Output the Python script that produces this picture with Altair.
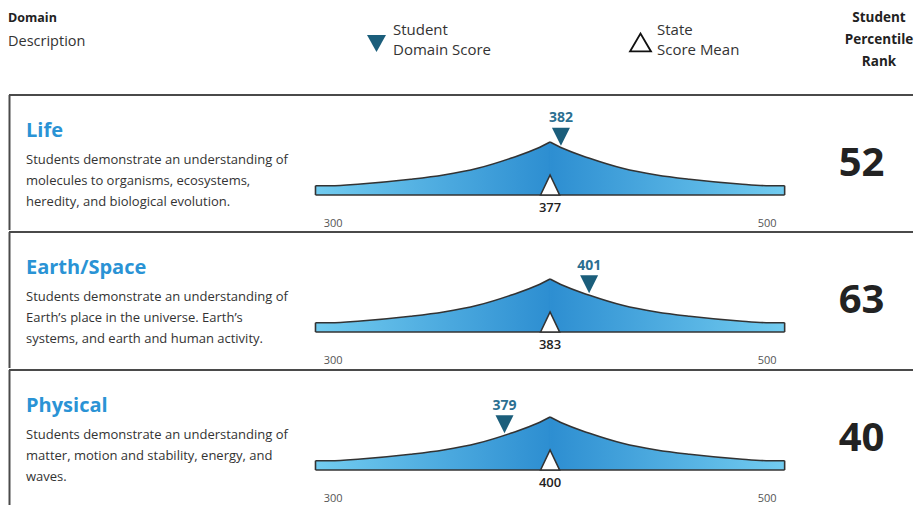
import altair as alt
import numpy as np
import pandas as pd

# ---------------- data ----------------
domains = ["Life", "Earth/Space", "Physical"]
descriptions = [
    "Students demonstrate an understanding of\nmolecules to organisms, ecosystems,\nheredity, and biological evolution.",
    "Students demonstrate an understanding of\nEarth\u2019s place in the universe. Earth\u2019s\nsystems, and earth and human activity.",
    "Students demonstrate an understanding of\nmatter, motion and stability, energy, and\nwaves.",
]
student_scores = [382, 401, 379]
state_means = [377, 383, 400]
percentile_ranks = [52, 63, 40]
scale_ticks = [300, 500]

# outline of the score "mountain" (score units, height above the base)
curve_x = [291.9, 298.8, 312.7, 335.7, 350.9, 366.6, 381.8, 394.2, 400.0,
           405.8, 418.2, 433.4, 449.1, 464.3, 487.3, 501.2, 508.1]
curve_h = [9.3, 9.3, 11.0, 15.7, 20.0, 26.7, 36.7, 46.7, 53.0,
           46.7, 36.7, 26.7, 20.0, 15.7, 11.0, 9.3, 9.3]

header_domain = "Domain"
header_description = "Description"
legend_student = ["Student", "Domain Score"]
legend_state = ["State", "Score Mean"]
rank_header = ["Student", "Percentile", "Rank"]

# ---------------- layout / style ----------------
FONT = "Open Sans"
W = 906
HEADER_H = 86
ROW_H = [137, 138, 137]
BASE = 101
PX_PER_UNIT = 2.17
X_LEFT = 150.2
X_DOMAIN = [X_LEFT, X_LEFT + W / PX_PER_UNIT]
BORDER = "#4a4a4a"
OUTLINE = "#333333"
TITLE_BLUE = "#2a93d5"
STUDENT_DARK = "#1b5e7b"
STUDENT_LABEL = "#2b6f91"
EDGE_BLUE = "#72ccf0"
MID_BLUE = "#2d8ed1"

DOWN_TIP = "M-1,-2.2L1,-2.2L0,-0.2Z"
UP_BASE = "M-0.95,0L0,-2L0.95,0Z"
DOWN_C = "M-1,-0.9L1,-0.9L0,0.9Z"
UP_C = "M-1,0.85L0,-0.85L1,0.85Z"

center = (scale_ticks[0] + scale_ticks[1]) / 2

curve_df = pd.DataFrame({"x": curve_x, "h": curve_h, "zero": 0.0})
left_df = curve_df[curve_df.x <= center].assign(side="L")
right_df = curve_df[curve_df.x >= center].assign(side="R")
outline_df = pd.concat([left_df, right_df], ignore_index=True)
base_df = pd.DataFrame({"x0": [curve_x[0]], "x1": [curve_x[-1]], "zero": [0.0]})
ends_df = pd.DataFrame({"x": [curve_x[0], curve_x[-1]],
                        "h": [curve_h[0], curve_h[-1]], "zero": [0.0, 0.0]})
seam_df = pd.DataFrame({"x": [center], "h": [max(curve_h) - 1.0], "zero": [0.0]})
ticks_df = pd.DataFrame({"tick": scale_ticks})

grad_left = alt.Gradient(
    gradient="linear",
    stops=[alt.GradientStop(color=EDGE_BLUE, offset=0),
           alt.GradientStop(color=MID_BLUE, offset=1)],
    x1=0, x2=1, y1=0, y2=0,
)
grad_right = alt.Gradient(
    gradient="linear",
    stops=[alt.GradientStop(color=MID_BLUE, offset=0),
           alt.GradientStop(color=EDGE_BLUE, offset=1)],
    x1=0, x2=1, y1=0, y2=0,
)


def row_chart(i):
    H = ROW_H[i]
    xs = alt.Scale(domain=X_DOMAIN, nice=False, zero=False)
    ys = alt.Scale(domain=[BASE - H, BASE], nice=False, zero=False)
    pos = center + (student_scores[i] - state_means[i])
    row_df = pd.DataFrame({
        "domain": [domains[i]],
        "description": [descriptions[i]],
        "rank": [str(percentile_ranks[i])],
        "student": [str(student_scores[i])],
        "mean": [str(state_means[i])],
        "pos": [pos],
        "center": [center],
        "zero": [0.0],
        "curve_at": [float(np.interp(pos, curve_x, curve_h))],
    })

    def X(f):
        return alt.X(f, type="quantitative", scale=xs, axis=None)

    def Y(f):
        return alt.Y(f, type="quantitative", scale=ys, axis=None)

    base = alt.Chart(row_df)

    top_rule = base.mark_rule(color=BORDER, strokeWidth=2).encode(
        x=alt.value(1), x2=alt.value(W - 1), y=alt.value(1))
    left_rule = base.mark_rule(color=BORDER, strokeWidth=2).encode(
        x=alt.value(1.5), y=alt.value(1), y2=alt.value(H - 1))

    area_l = alt.Chart(left_df).mark_area(
        color=grad_left, opacity=1, interpolate="monotone").encode(
        x=X("x"), y=Y("h"), y2=alt.Y2("zero"))
    area_r = alt.Chart(right_df).mark_area(
        color=grad_right, opacity=1, interpolate="monotone").encode(
        x=X("x"), y=Y("h"), y2=alt.Y2("zero"))
    seam = alt.Chart(seam_df).mark_rule(color=MID_BLUE, strokeWidth=1.5).encode(
        x=X("x"), y=Y("h"), y2=alt.Y2("zero"))
    outline = alt.Chart(outline_df).mark_line(
        color=OUTLINE, strokeWidth=1.6, interpolate="monotone").encode(
        x=X("x"), y=Y("h"), detail="side:N")
    bottom = alt.Chart(base_df).mark_rule(color=OUTLINE, strokeWidth=1.6).encode(
        x=X("x0"), x2=alt.X2("x1"), y=Y("zero"))
    ends = alt.Chart(ends_df).mark_rule(color=OUTLINE, strokeWidth=1.6).encode(
        x=X("x"), y=Y("h"), y2=alt.Y2("zero"))

    mean_tri = base.mark_point(
        shape=UP_BASE, size=100 * 4, filled=True, fill="white",
        stroke=OUTLINE, strokeWidth=1.6, opacity=1).encode(
        x=X("center"), y=Y("zero"))
    stud_tri = base.mark_point(
        shape=DOWN_TIP, size=81 * 4, filled=True, color=STUDENT_DARK,
        opacity=1).encode(x=X("pos"), y=Y("curve_at"))
    stud_lbl = base.mark_text(
        dy=-29, font=FONT, fontSize=14, fontWeight="bold", color=STUDENT_LABEL,
        baseline="middle").encode(x=X("pos"), y=Y("curve_at"), text="student:N")
    mean_lbl = base.mark_text(
        dy=13, font=FONT, fontSize=13, fontWeight=600, color="#222222",
        baseline="middle").encode(x=X("center"), y=Y("zero"), text="mean:N")
    tick_lbl = alt.Chart(ticks_df).mark_text(
        font=FONT, fontSize=11, color="#555555", baseline="middle").encode(
        x=X("tick"), y=alt.value(130), text="tick:N")

    title = base.mark_text(
        align="left", baseline="middle", font=FONT, fontSize=20,
        fontWeight="bold", color=TITLE_BLUE).encode(
        x=alt.value(18), y=alt.value(37), text="domain:N")
    desc = base.mark_text(
        align="left", baseline="middle", font=FONT, fontSize=13,
        color="#333333", lineBreak="\n", lineHeight=21).encode(
        x=alt.value(18), y=alt.value(66), text="description:N")
    rank = base.mark_text(
        align="center", baseline="middle", font=FONT, fontSize=40,
        fontWeight="bold", color="#222222").encode(
        x=alt.value(853.5), y=alt.value(70), text="rank:N")

    return alt.layer(
        top_rule, left_rule, area_l, area_r, seam, outline, bottom, ends,
        mean_tri, stud_tri, stud_lbl, mean_lbl, tick_lbl, title, desc, rank,
    ).properties(width=W, height=H)


hdr_df = pd.DataFrame({
    "domain": [header_domain],
    "description": [header_description],
    "student": ["\n".join(legend_student)],
    "state": ["\n".join(legend_state)],
    "rank": ["\n".join(rank_header)],
})
hb = alt.Chart(hdr_df)
header = alt.layer(
    hb.mark_text(align="left", baseline="middle", font=FONT, fontSize=12.5,
                 fontWeight="bold", color="#222222").encode(
        x=alt.value(0), y=alt.value(10), text="domain:N"),
    hb.mark_text(align="left", baseline="middle", font=FONT, fontSize=14.5,
                 color="#333333").encode(
        x=alt.value(0), y=alt.value(34), text="description:N"),
    hb.mark_point(shape=DOWN_C, size=361, filled=True, color=STUDENT_DARK,
                  opacity=1).encode(x=alt.value(368.5), y=alt.value(35.5)),
    hb.mark_text(align="left", baseline="middle", font=FONT, fontSize=15,
                 color="#333333", lineBreak="\n", lineHeight=20).encode(
        x=alt.value(385), y=alt.value(22), text="student:N"),
    hb.mark_point(shape=UP_C, size=441, filled=True, fill="white",
                  stroke="#111111", strokeWidth=1.8, opacity=1).encode(
        x=alt.value(632.5), y=alt.value(34.5)),
    hb.mark_text(align="left", baseline="middle", font=FONT, fontSize=15,
                 color="#333333", lineBreak="\n", lineHeight=20).encode(
        x=alt.value(649), y=alt.value(22), text="state:N"),
    hb.mark_text(align="center", baseline="middle", font=FONT, fontSize=13.5,
                 fontWeight="bold", color="#222222", lineBreak="\n",
                 lineHeight=22).encode(
        x=alt.value(871), y=alt.value(10), text="rank:N"),
).properties(width=W, height=HEADER_H)

chart = alt.vconcat(
    header, row_chart(0), row_chart(1), row_chart(2), spacing=0, bounds="flush"
).properties(padding=0).configure_view(strokeWidth=0).configure_concat(spacing=0)

chart.save("out.html", embed_options={"renderer": "svg", "actions": False})
